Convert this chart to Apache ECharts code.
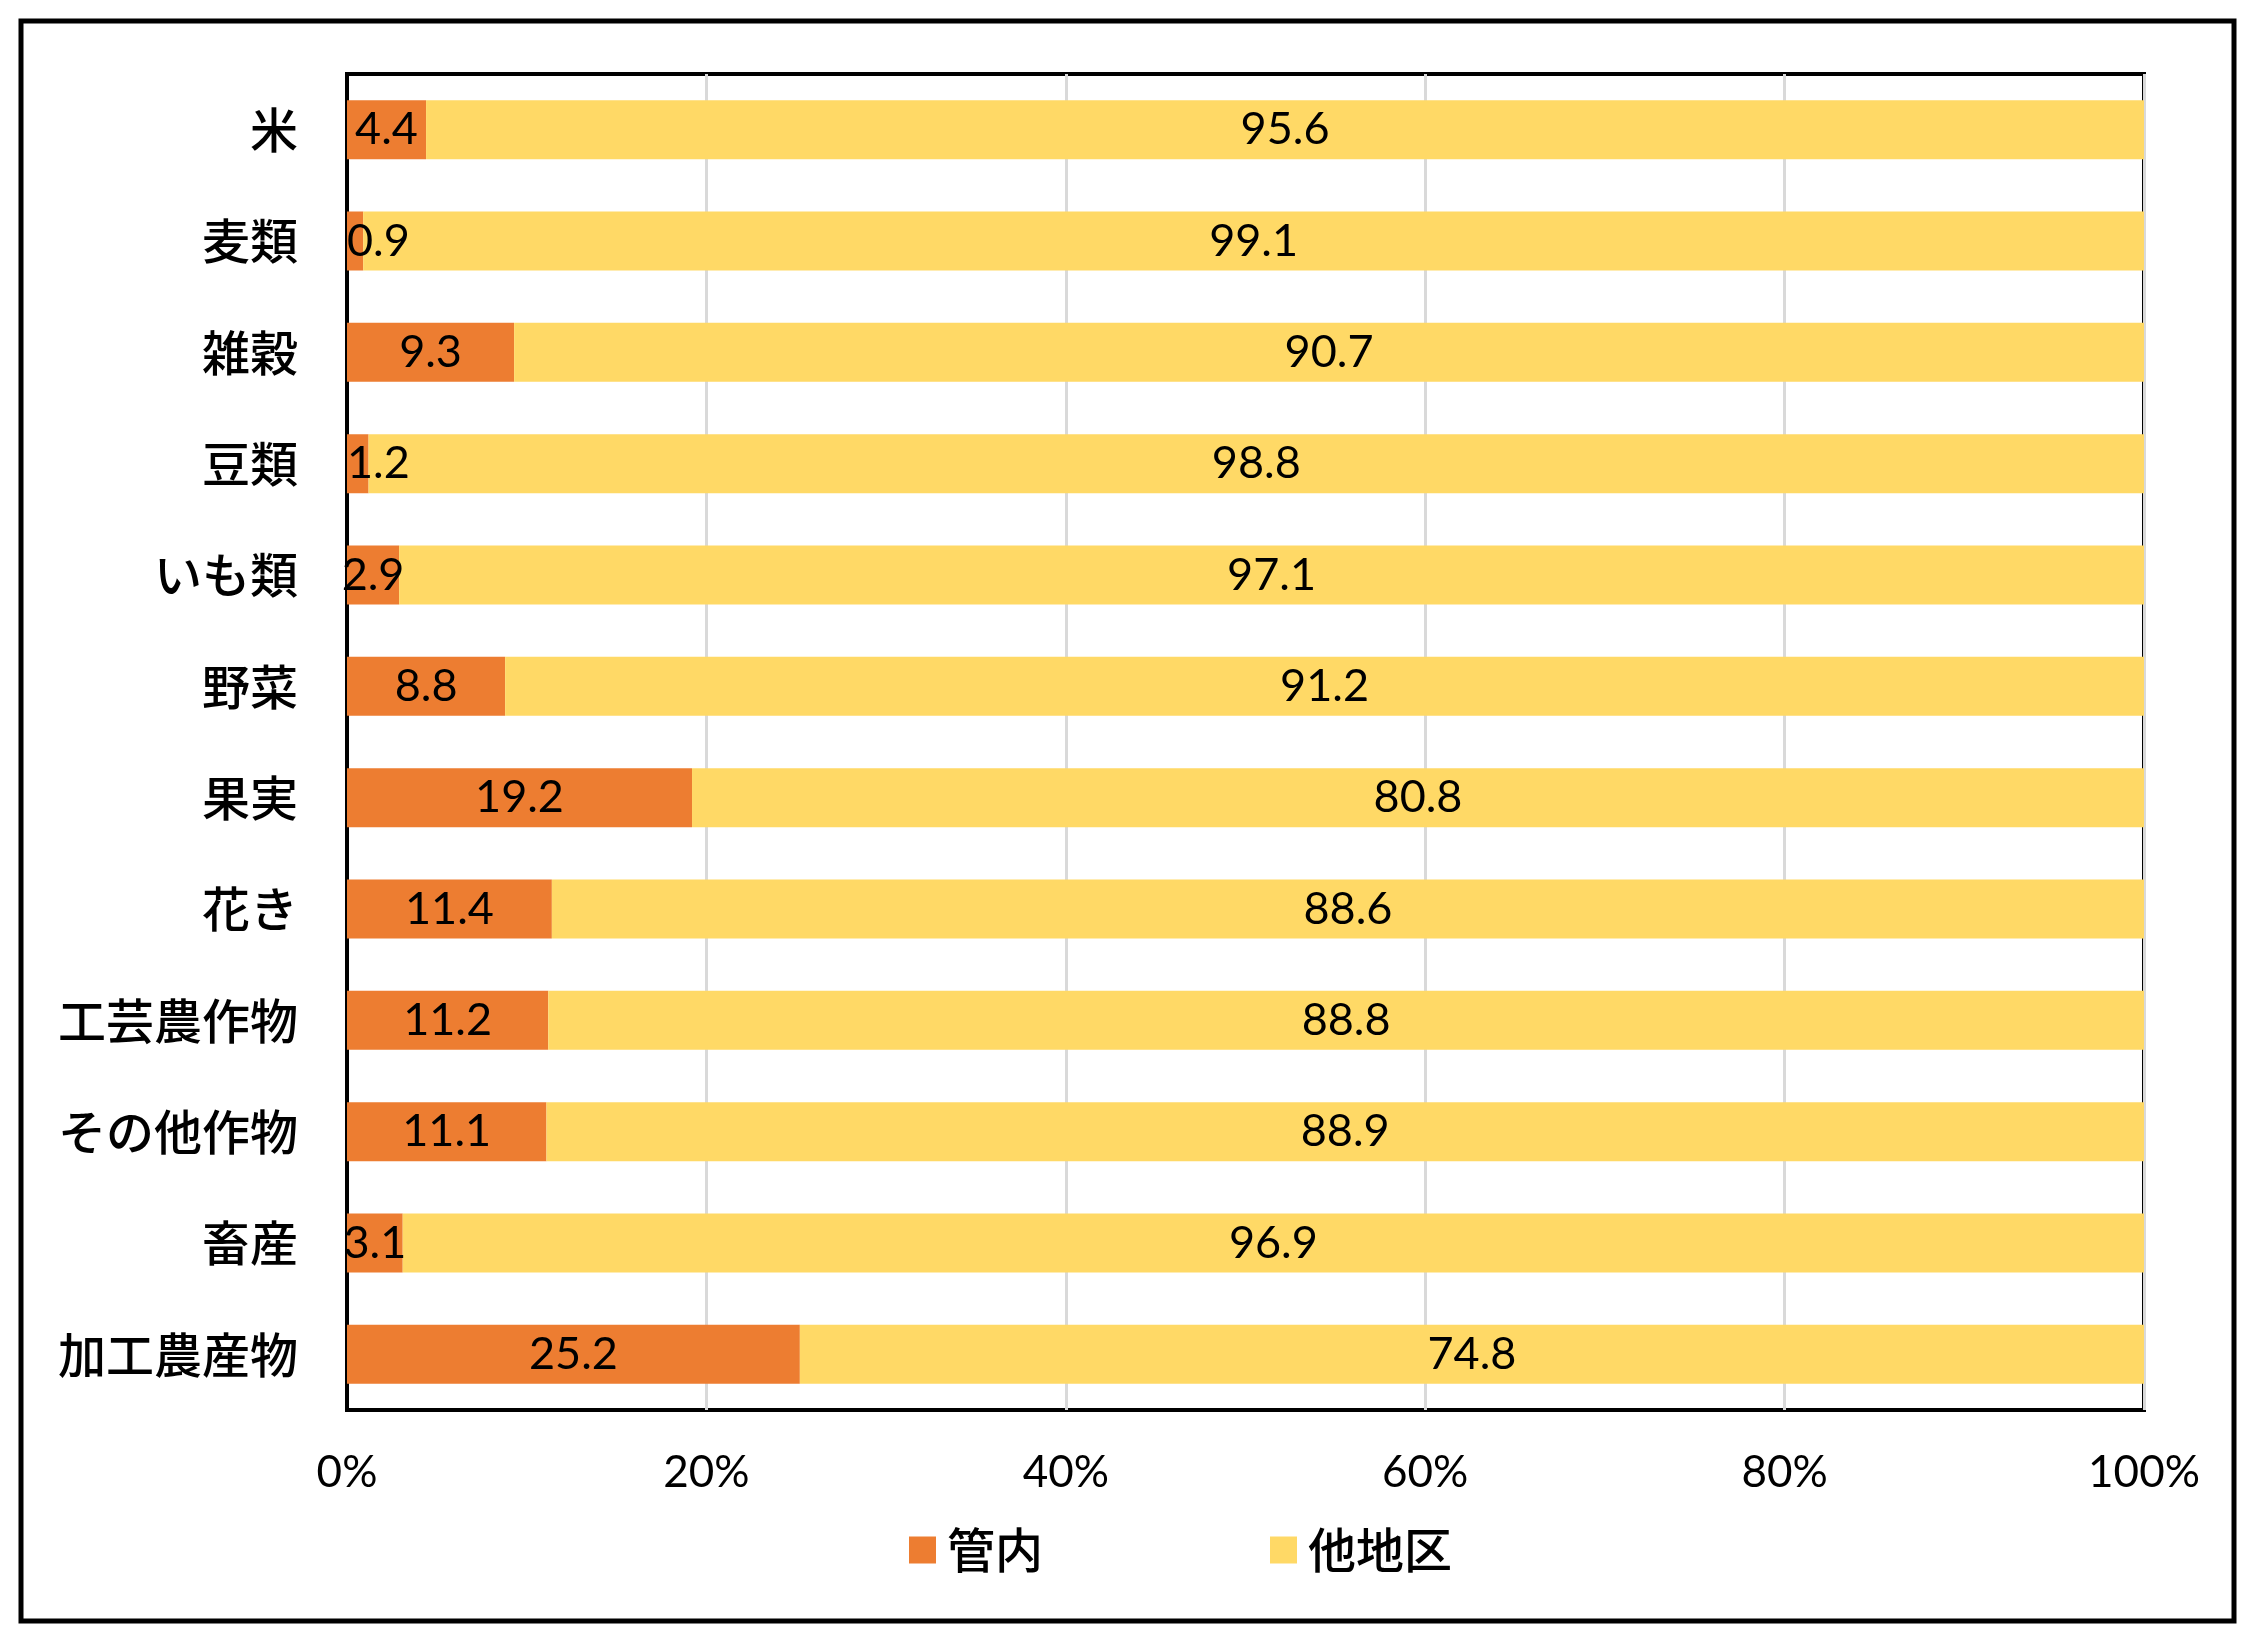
<!DOCTYPE html>
<html>
<head>
<meta charset="utf-8">
<script src="https://cdn.jsdelivr.net/npm/echarts@6/dist/echarts.min.js"></script>
<style>
html,body{margin:0;padding:0;background:#fff;}
#chart{width:2261px;height:1648px;}
</style>
</head>
<body>
<div id="chart"></div>
<script>
const categories = ['米','麦類','雑穀','豆類','いも類','野菜','果実','花き','工芸農作物','その他作物','畜産','加工農産物'];
const seriesNames = ['管内','他地区'];
const kannai = [4.4,0.9,9.3,1.2,2.9,8.8,19.2,11.4,11.2,11.1,3.1,25.2];
const tachiku = [95.6,99.1,90.7,98.8,97.1,91.2,80.8,88.6,88.8,88.9,96.9,74.8];
const xTicks = [0,20,40,60,80,100];
const colors = ['#ED7D31','#FFD966'];

const chart = echarts.init(document.getElementById('chart'));
const numFont = 'Lato, "Noto Sans", sans-serif';
const baseLabel = {
  show: true,
  position: 'inside',
  color: '#000',
  fontSize: 45,
  fontFamily: numFont,
  formatter: p => p.value.toFixed(1)
};
// very thin bars: the label is kept inside the plot area, starting at the axis
const kannaiData = kannai.map(v => v < 2
  ? {value: v, label: {position: 'insideLeft', distance: 0}}
  : v);
chart.setOption({
  animation: false,
  backgroundColor: '#fff',
  graphic: [{
    type: 'rect',
    shape: {x: 21, y: 21, width: 2213, height: 1600},
    style: {fill: 'none', stroke: '#000', lineWidth: 5},
    silent: true
  }],
  grid: {
    left: 347, top: 74, right: 117, bottom: 238,
    show: true, borderColor: '#000', borderWidth: 4, backgroundColor: 'transparent'
  },
  legend: {
    data: seriesNames,
    left: 904, top: 1521,
    icon: 'rect', itemWidth: 27, itemHeight: 27, itemGap: 227,
    textStyle: {fontSize: 48, fontWeight: 500, color: '#000', fontFamily: '"Noto Sans CJK JP", sans-serif', padding: [0,0,0,6]}
  },
  xAxis: {
    type: 'value', min: xTicks[0], max: xTicks[xTicks.length-1], interval: 20,
    axisLine: {show: false}, axisTick: {show: false},
    splitLine: {show: true, lineStyle: {color: '#D9D9D9', width: 3}},
    axisLabel: {
      margin: 41, fontSize: 44, color: '#000',
      fontFamily: numFont,
      formatter: v => v + '%'
    }
  },
  yAxis: {
    type: 'category', data: categories, inverse: true,
    axisLine: {show: true, lineStyle: {color: '#000', width: 4}},
    axisTick: {show: false},
    axisLabel: {margin: 49, fontSize: 48, fontWeight: 500, color: '#000', fontFamily: '"Noto Sans CJK JP", sans-serif'}
  },
  series: [
    {name: seriesNames[0], type: 'bar', stack: 'total', data: kannaiData, barWidth: 59,
     itemStyle: {color: colors[0]}, label: baseLabel},
    {name: seriesNames[1], type: 'bar', stack: 'total', data: tachiku, barWidth: 59,
     itemStyle: {color: colors[1]}, label: baseLabel}
  ]
});
</script>
</body>
</html>
